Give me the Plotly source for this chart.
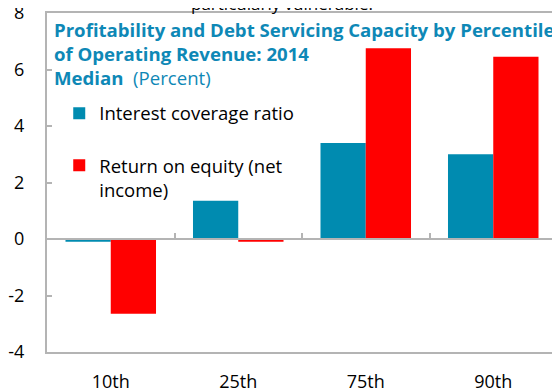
import plotly.graph_objects as go

categories = ["10th", "25th", "75th", "90th"]
interest_coverage = [-0.1, 1.35, 3.4, 3.0]
return_on_equity = [-2.65, -0.1, 6.75, 6.45]
series_names = ["Interest coverage ratio", "Return on equity (net<br>income)"]
y_ticks = [-4, -2, 0, 2, 4, 6, 8]

TEAL = "#008BB0"
RED = "#FF0000"
TITLE = "#0E88B6"
FONT = "Open Sans"
GRAY = "#B4B4B4"

fig = go.Figure()
fig.add_trace(go.Bar(x=categories, y=interest_coverage, name=series_names[0],
                     marker=dict(color=TEAL, line=dict(width=0)), legendgroup="a"))
fig.add_trace(go.Bar(x=categories, y=return_on_equity, name=series_names[1],
                     marker=dict(color=RED, line=dict(width=0)), legendgroup="b"))

ymin, ymax = y_ticks[0], y_ticks[-1]
zero_pos = (0 - ymin) / (ymax - ymin)

# page body adds an 8px offset, so the figure is sized to fit the window
fig.update_layout(
    width=552, height=383,
    margin=dict(l=39, r=3, t=5, b=39, autoexpand=False),
    paper_bgcolor="white", plot_bgcolor="white",
    barmode="group", bargap=0.29, bargroupgap=0,
    font=dict(family=FONT, size=18, color="black"),
    showlegend=True,
    legend=dict(x=0.024, y=0.759, xanchor="left", yanchor="top",
                bgcolor="rgba(0,0,0,0)", font=dict(size=18.5, color="black"),
                valign="top", tracegroupgap=25, itemwidth=30),
    xaxis=dict(type="category", range=[-0.5, len(categories) - 0.5],
               showline=True, linecolor=GRAY, linewidth=2, mirror=True,
               ticks="", showgrid=False, ticklabelstandoff=12, automargin=False,
               ticklabeloverflow="allow",
               tickfont=dict(size=18, color="black")),
    xaxis2=dict(overlaying="x", anchor="free", position=zero_pos, side="bottom",
                range=[-0.5, len(categories) - 0.5], type="linear",
                tickvals=[i + 0.5 for i in range(len(categories) - 1)],
                showticklabels=False, ticks="inside", ticklen=5,
                tickcolor=GRAY, tickwidth=1.5, automargin=False,
                showline=True, linecolor=GRAY, linewidth=2, showgrid=False,
                zeroline=False),
    yaxis=dict(range=[ymin, ymax], tickvals=y_ticks,
               ticktext=[str(v) for v in y_ticks], showgrid=False,
               zeroline=False, showline=True, linecolor=GRAY, linewidth=2,
               mirror=True, ticks="inside", ticklen=5, tickcolor=GRAY,
               tickwidth=1.5, ticklabelstandoff=17, automargin=False,
               ticklabeloverflow="allow",
               tickfont=dict(size=18, color="black")),
)

# helper so the overlay axis (tick marks along zero line) is drawn
fig.add_trace(go.Scatter(x=[], y=[], xaxis="x2", showlegend=False, hoverinfo="skip"))

fig.add_annotation(text="particularly vulnerable.", xref="paper", yref="paper",
                   x=0.46, y=1.027, xanchor="center", yanchor="middle",
                   showarrow=False, font=dict(size=17, color="black"))
title_lines = [
    "<b>Profitability and Debt Servicing Capacity by Percentile</b>",
    "<b>of Operating Revenue: 2014</b>",
    "<b>Median</b>  (Percent)",
]
for i, t in enumerate(title_lines):
    fig.add_annotation(text=t, xref="paper", yref="paper",
                       x=0.010, y=1 - (2 + 24 * i) / 339, xanchor="left", yanchor="top",
                       showarrow=False, align="left",
                       font=dict(size=18.6, color=TITLE, family=FONT))

fig.write_html("out.html")
